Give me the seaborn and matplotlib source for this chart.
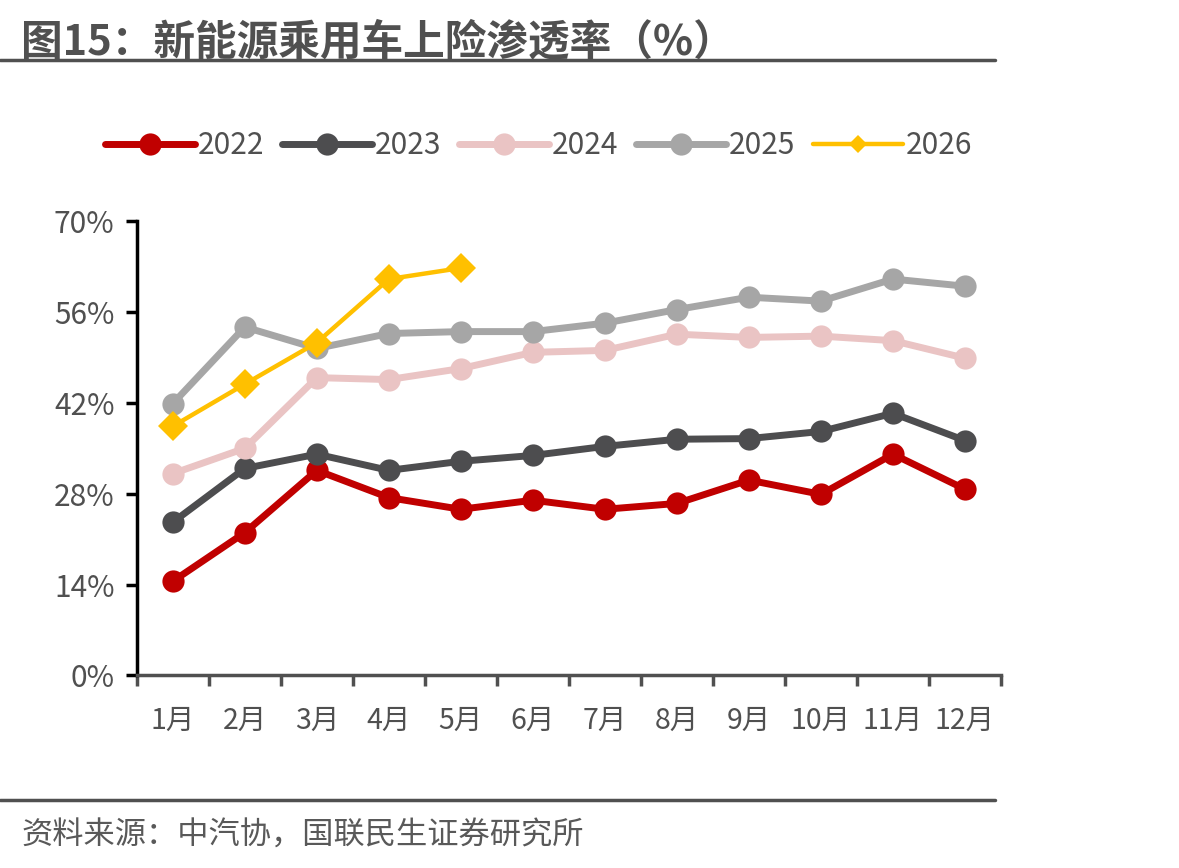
import pandas as pd
import numpy as np
import matplotlib.pyplot as plt
import seaborn as sns
from matplotlib.lines import Line2D

# data (%)
months = ['1月', '2月', '3月', '4月', '5月', '6月', '7月', '8月', '9月', '10月', '11月', '12月']
y2022 = [14.5, 22.0, 31.6, 27.4, 25.6, 27.0, 25.6, 26.5, 30.1, 27.9, 34.1, 28.7]
y2023 = [23.6, 31.9, 34.1, 31.6, 33.0, 33.9, 35.3, 36.4, 36.5, 37.6, 40.4, 36.2]
y2024 = [31.1, 35.0, 45.9, 45.6, 47.3, 49.8, 50.1, 52.6, 52.1, 52.3, 51.6, 48.9]
y2025 = [41.9, 53.7, 50.4, 52.7, 53.0, 53.0, 54.3, 56.4, 58.3, 57.7, 61.1, 60.0]
y2026 = [38.4, 44.9, 51.3, 61.1, 62.8]

series = {'2022': y2022, '2023': y2023, '2024': y2024, '2025': y2025, '2026': y2026}
colors = {'2022': '#C00000', '2023': '#4D4D4F', '2024': '#EAC4C4', '2025': '#A6A6A6', '2026': '#FFC000'}

sns.set_style('white')
plt.rcParams['font.family'] = ['Noto Sans CJK SC', 'DejaVu Sans']

fig = plt.figure(figsize=(11.79, 8.68), dpi=100)
ax = fig.add_axes([0.116, 0.222, 0.733, 0.523])

handles = []
for name, vals in series.items():
    df = pd.DataFrame({'x': np.arange(len(vals)), 'y': vals})
    if name == '2026':
        sns.lineplot(data=df, x='x', y='y', ax=ax, color=colors[name], lw=3.2,
                     marker='D', markersize=15, markeredgewidth=0, zorder=5)
        handles.append(Line2D([], [], color=colors[name], lw=3.2, marker='D',
                              markersize=9, markeredgewidth=0, label=name))
    else:
        sns.lineplot(data=df, x='x', y='y', ax=ax, color=colors[name], lw=5,
                     marker='o', markersize=16, markeredgewidth=0)
        handles.append(Line2D([], [], color=colors[name], lw=5, marker='o',
                              markersize=16, markeredgewidth=0, label=name))

ax.set_xlim(-0.5, 11.5)
ax.set_ylim(0, 70)
ax.set_xlabel('')
ax.set_ylabel('')

ax.set_yticks([0, 14, 28, 42, 56, 70])
ax.set_yticklabels([f'{v}%' for v in [0, 14, 28, 42, 56, 70]], fontsize=21.5, color='#505050')
ax.set_xticks(np.arange(-0.5, 12, 1))
ax.set_xticklabels([])
ax.set_xticks(np.arange(12), minor=True)
ax.set_xticklabels(months, minor=True, fontsize=20.5, color='#505050')
ax.tick_params(axis='x', which='major', bottom=True, direction='out', length=8, width=2.5, color='#505050')
ax.tick_params(axis='x', which='minor', bottom=True, length=0, pad=22)
ax.tick_params(axis='y', left=True, direction='out', length=8, width=2.5, color='black', pad=8)

for s in ['top', 'right']:
    ax.spines[s].set_visible(False)
ax.spines['left'].set_color('black')
ax.spines['left'].set_linewidth(2.5)
ax.spines['bottom'].set_color('#505050')
ax.spines['bottom'].set_linewidth(2.5)

leg = fig.legend(handles=handles, loc='center', bbox_to_anchor=(0.457, 0.832), ncol=5,
                 frameon=False, fontsize=21.5, handlelength=3.0, handletextpad=0.1,
                 columnspacing=0.6)
for t in leg.get_texts():
    t.set_color('#505050')

fig.text(0.018, 0.975, '图15：新能源乘用车上险渗透率（%）', fontsize=30, fontweight='bold',
         color='#505050', va='top', ha='left')
fig.add_artist(Line2D([0, 0.844], [0.931, 0.931], color='#505050', lw=2.5))
fig.add_artist(Line2D([0, 0.844], [0.078, 0.078], color='#505050', lw=2.5))
fig.text(0.018, 0.037, '资料来源：中汽协，国联民生证券研究所', fontsize=22.5, color='#595959',
         va='center', ha='left')

fig.savefig('out.png', dpi=100)
